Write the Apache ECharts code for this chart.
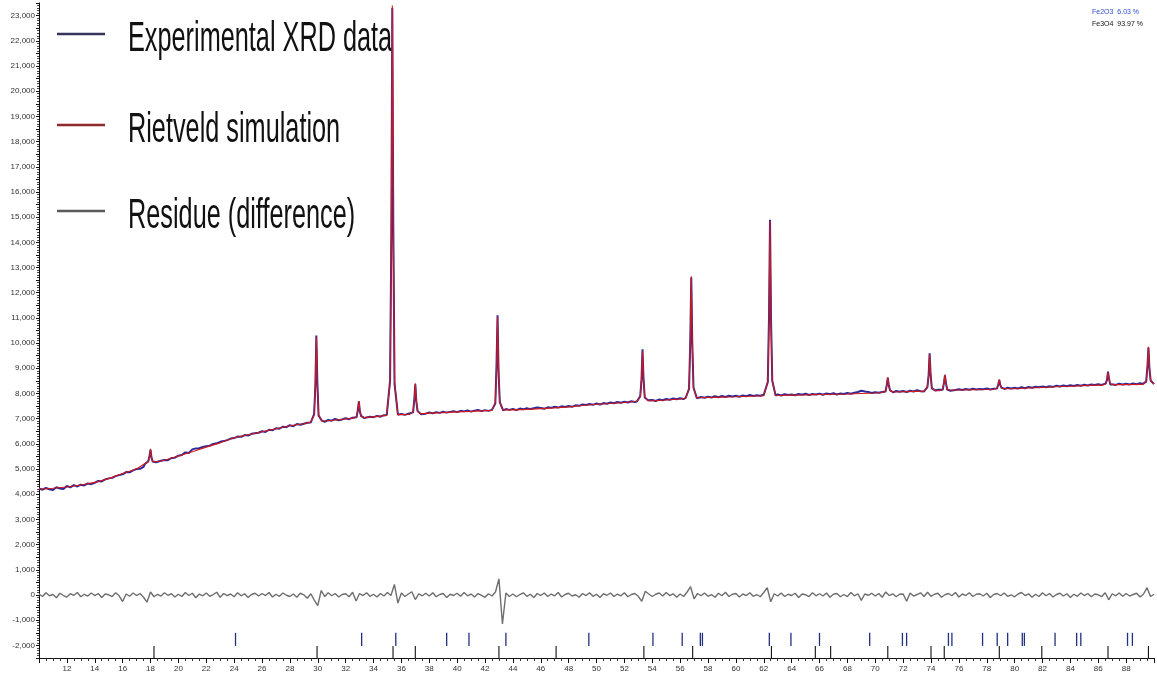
<!DOCTYPE html>
<html>
<head>
<meta charset="utf-8">
<script src="https://cdn.jsdelivr.net/npm/echarts@6/dist/echarts.min.js"></script>
<style>
  html, body { margin: 0; padding: 0; background: #ffffff; }
  #chart { width: 1157px; height: 684px; }
</style>
</head>
<body>
<div id="chart"></div>
<script>
// Scan grid of the measured pattern (2θ in degrees)
const scanStart = 10;
const scanStep = 0.25;

// Measured counts, one value per 0.25° from 10° to 90°
const expCounts = [
  4230, 4180, 4250, 4200, 4170, 4280, 4230, 4210,
  4330, 4270, 4360, 4310, 4380, 4350, 4430, 4400,
  4450, 4530, 4510, 4590, 4630, 4650, 4720, 4760,
  4790, 4880, 4870, 4950, 5000, 5010, 5090, 5110,
  5230, 5270, 5250, 5330, 5360, 5350, 5440, 5450,
  5530, 5560, 5660, 5640, 5780, 5820, 5830, 5880,
  5910, 5930, 6000, 6020, 6080, 6110, 6150, 6210,
  6230, 6290, 6280, 6350, 6330, 6400, 6420, 6440,
  6500, 6470, 6560, 6540, 6620, 6600, 6680, 6660,
  6740, 6700, 6790, 6760, 6800, 6840, 6810, 6880,
  6890, 6930, 6870, 6950, 6920, 6990, 6940, 6970,
  7020, 6980, 7040, 7000, 7060, 7030, 7050, 7080,
  7060, 7110, 7080, 7140, 7100, 7130, 7170, 7150,
  7190, 7150, 7200, 7170, 7220, 7190, 7240, 7200,
  7250, 7210, 7260, 7230, 7280, 7240, 7270, 7300,
  7260, 7310, 7290, 7330, 7280, 7320, 7350, 7300,
  7340, 7310, 7370, 7330, 7360, 7340, 7380, 7350,
  7390, 7340, 7400, 7370, 7420, 7380, 7410, 7440,
  7420, 7390, 7450, 7430, 7470, 7440, 7490, 7460,
  7500, 7470, 7530, 7510, 7560, 7540, 7580, 7550,
  7600, 7560, 7620, 7590, 7640, 7610, 7660, 7630,
  7670, 7640, 7690, 7660, 7710, 7680, 7720, 7700,
  7740, 7700, 7760, 7730, 7780, 7750, 7800, 7770,
  7810, 7780, 7830, 7800, 7850, 7820, 7860, 7830,
  7870, 7840, 7890, 7850, 7900, 7860, 7910, 7880,
  7910, 7870, 7920, 7890, 7940, 7900, 7930, 7910,
  7950, 7920, 7960, 7930, 7960, 7920, 7970, 7940,
  7960, 7930, 7980, 7950, 7990, 7940, 7980, 7960,
  7990, 7950, 8000, 7970, 8010, 7960, 8000, 7980,
  8020, 7990, 8030, 8060, 8110, 8080, 8060, 8020,
  8050, 8030, 8070, 8040, 8090, 8060, 8100, 8070,
  8100, 8060, 8110, 8080, 8130, 8090, 8120, 8100,
  8130, 8100, 8150, 8120, 8160, 8130, 8170, 8140,
  8170, 8140, 8180, 8150, 8190, 8160, 8180, 8170,
  8200, 8160, 8210, 8180, 8220, 8190, 8230, 8200,
  8230, 8200, 8250, 8210, 8260, 8230, 8270, 8250,
  8280, 8250, 8290, 8260, 8310, 8280, 8320, 8290,
  8330, 8300, 8340, 8310, 8350, 8320, 8360, 8340,
  8370, 8340, 8380, 8350, 8380, 8340, 8390, 8360,
  8390, 8360, 8400, 8370, 8410, 8380, 8420, 8390,
  8400
];

// Difference curve (observed − calculated), same 0.25° grid
const residueCounts = [
    40,  -60,   90,  -30,   20, -110,   70,  -20,
   -80,   50,  -10,  100,  -70,   30,  -40,   80,
   -20,   60, -100,   40,   10,  -60,   90,  -30,
  -260,   40,  -50,   80,  -20,   60,  -90, -280,
   120,  -70,   30,  -40,   90,  -10,   50,  -80,
    30,  -60,  100,  -20,   70, -110,   40,  -30,
    80,  -50,   20,  110,  -90,   60,  -20,   40,
   -70,   90,  -30,   50, -100,   20,   70,  -40,
    60,  -20,  100,  -80,   30,  -50,   80,  -10,
   -60,   40,  -90,   70,   10, -130,   50, -200,
  -420,  180,  -60,   90,  -30,   60,  -80,   20,
    50,  -70,  110, -240,   60,  -20,   90,  -50,
    30,  -80,   60,  -40,  100,  -20,  420, -320,
    80,  -60,   40,  130, -180,   50,  -30,   70,
   -40,   90,  -70,   20,   60, -100,   30,  -20,
    70,  -50,  100,  -30,   40,  -80,   60,  -10,
   -90,   50,  -40,  120,  640,-1150,   80,  -60,
    40,  -70,   20,   90,  -50,   30, -100,   60,
   -20,   80,  -60,   40,  -30,  100,  -80,   20,
    70,  -40,   10,  -90,   60,  -20,   90,  -50,
    30, -100,   50,  -10,   80,  -60,   40,  -30,
    90,  -70,   20,   60,  -50, -250,  150,   40,
   -60,   30,   80,  -40,  100,  -20,   50,  -90,
    40,  -60,  120,  330, -150,   60,  -30,   80,
   -50,   20,  -90,   70,  -30,  110,  -60,   30,
    60,  -80,   40,  -20,   90,  -50,   20,  -70,
   100,  290, -270,   50,  -40,   80,  -60,   30,
   -20,   70, -100,   40,   10,  -60,   90,  -30,
    50,  -40,   80,  -90,   30,   60,  -70,   20,
   -60,  100,  -30,   50, -210,   40,  -10,   70,
   -40,   60,  -90,  120,  -20,   50,  -70,   30,
    40, -250,   80,  -40,   20,   90,  -60,  110,
   -50,   30,   70,  -90,   10,   60,  -30,  100,
   -80,   40,  -20,   90,  -60,   30,   50,  -40,
    70, -100,   20,   60,  -30,   80,  -50,   10,
   -70,   40,  100,  -20,   50,  -90,   30,  -60,
    90,  -30,   60,  -80,   20,   70,  -40,   50,
  -100,   30,  -50,   80,  -20,   60,  -70,   40,
    10,  -60,   90, -190,   50,  -30,   80,  -50,
    60,  -40,   20,   70,  -80,   40,  290,  -60,
    30
];

// Refined background of the calculated pattern, one node per degree from 10° to 90°
const simBackground = [
  4200, 4240, 4290, 4370, 4470, 4620, 4820, 5000, 5200, 5350,
  5520, 5690, 5870, 6040, 6240, 6360, 6480, 6600, 6720, 6800,
  6880, 6930, 6990, 7030, 7070, 7110, 7160, 7190, 7220, 7240,
  7270, 7290, 7320, 7340, 7350, 7370, 7400, 7430, 7470, 7520,
  7570, 7600, 7640, 7670, 7710, 7740, 7780, 7810, 7840, 7855,
  7870, 7890, 7910, 7920, 7935, 7945, 7960, 7970, 7980, 8000,
  8020, 8045, 8070, 8085, 8100, 8120, 8140, 8150, 8160, 8175,
  8190, 8215, 8240, 8265, 8290, 8310, 8330, 8340, 8350, 8360,
  8375
];

// Reflections of the pattern: centre (2θ) and profile samples at the offsets below
const peakPositions = [18.0, 29.9, 32.95, 35.35, 37.0, 42.9, 53.3, 56.8, 62.45, 70.9, 73.9, 75.0, 78.9, 86.7, 89.6];
const peakOffsets = [-0.4, -0.16, -0.07, 0, 0.07, 0.16, 0.4];

const simPeakCounts = [
  [5220, 5280, 5490,  5800,  5490, 5290, 5290],
  [6870, 7140, 8400, 10250,  8400, 7150, 6900],
  [7020, 7080, 7330,  7700,  7330, 7090, 7040],
  [7130, 8440, 14460, 23400, 14460, 8450, 7150],
  [7170, 7280, 7730,  8400,  7730, 7280, 7190],
  [7330, 7630, 9010, 11050,  9010, 7640, 7350],
  [7690, 7860, 8600,  9700,  8600, 7870, 7710],
  [7810, 8200, 9990, 12650,  9990, 8210, 7830],
  [7910, 8470, 11040, 14850, 11040, 8480, 7930],
  [8040, 8100, 8320,  8650,  8320, 8100, 8060],
  [8090, 8220, 8750,  9550,  8750, 8220, 8110],
  [8110, 8170, 8400,  8750,  8400, 8170, 8130],
  [8170, 8210, 8350,  8560,  8350, 8210, 8190],
  [8330, 8380, 8570,  8850,  8570, 8380, 8350],
  [8360, 8490, 9040,  9850,  9040, 8490, 8380]
];

const expPeakCounts = [
  [5200, 5310, 5520,  5760,  5460, 5300, 5270],
  [6850, 7180, 8330, 10300,  8480, 7120, 6920],
  [7040, 7060, 7360,  7690,  7290, 7110, 7020],
  [7150, 8520, 14300, 23300, 14700, 8380, 7160],
  [7190, 7250, 7780,  8360,  7700, 7310, 7180],
  [7350, 7600, 9200, 11100,  8900, 7660, 7330],
  [7680, 7900, 8550,  9750,  8640, 7840, 7730],
  [7830, 8180, 10100, 12600, 10050, 8240, 7810],
  [7930, 8450, 11100, 14900, 11000, 8510, 7920],
  [8060, 8080, 8350,  8620,  8340, 8130, 8040],
  [8080, 8250, 8720,  9600,  8780, 8200, 8120],
  [8130, 8150, 8420,  8720,  8430, 8160, 8110],
  [8190, 8200, 8370,  8540,  8330, 8230, 8180],
  [8320, 8400, 8550,  8870,  8590, 8360, 8360],
  [8380, 8470, 9080,  9820,  9010, 8520, 8370]
];

// Bragg positions of the two refined phases
const fe2o3Reflections = [24.1, 33.15, 35.6, 39.25, 40.85, 43.5, 49.45, 54.05, 56.15, 57.45, 57.6,
  62.4, 63.95, 66.0, 69.6, 71.95, 72.25, 75.25, 75.5, 77.7, 78.75, 79.5, 80.55, 80.7, 82.9,
  84.45, 84.75, 88.1, 88.45];
const fe3o4Reflections = [18.25, 29.95, 35.4, 37.0, 43.0, 47.1, 53.4, 56.9, 62.55, 65.7, 66.8,
  70.9, 74.0, 74.95, 78.9, 81.95, 86.7, 89.6];

// Phase fractions and legend entries
const phaseFractions = ['Fe2O3  6.03 %', 'Fe3O4  93.97 %'];
const seriesNames = ['Experimental XRD data', 'Rietveld simulation', 'Residue (difference)'];

// ---- assemble [2θ, counts] pairs ----
function gridPairs(values, start, step) {
  return values.map((v, i) => [+(start + i * step).toFixed(3), v]);
}
// replace grid samples inside each reflection window with the reflection profile
function withPeaks(pairs, positions, profiles) {
  const half = Math.max(...peakOffsets.map(Math.abs));
  const kept = pairs.filter(p => !positions.some(c => Math.abs(p[0] - c) <= half + 1e-6));
  positions.forEach((c, i) => {
    peakOffsets.forEach((o, j) => kept.push([+(c + o).toFixed(3), profiles[i][j]]));
  });
  kept.sort((a, b) => a[0] - b[0]);
  return kept;
}

const expData = withPeaks(gridPairs(expCounts, scanStart, scanStep), peakPositions, expPeakCounts);
const simData = withPeaks(gridPairs(simBackground, scanStart, 1), peakPositions, simPeakCounts);
const residueData = gridPairs(residueCounts, scanStart, scanStep);

const thousands = v => v.toLocaleString('en-US');

// vertical tick marks for a phase's reflection list
function braggSeries(name, positions, yTop, yBottom, color, width) {
  return {
    name: name,
    type: 'custom',
    silent: true,
    data: positions.map(t => [t, yTop]),
    encode: { x: 0, y: 1 },
    renderItem: function (params, api) {
      const a = api.coord([api.value(0), yTop]);
      const b = api.coord([api.value(0), yBottom]);
      return {
        type: 'line',
        shape: { x1: a[0], y1: a[1], x2: b[0], y2: b[1] },
        style: { stroke: color, lineWidth: width }
      };
    }
  };
}

const chart = echarts.init(document.getElementById('chart'), null, { renderer: 'canvas' });

const legendFont = '32px "Liberation Sans", Arial, sans-serif';
const legendRows = [
  { y: 40, line: '#34345c' },
  { y: 131, line: '#8e2a2a' },
  { y: 217, line: '#5a5a5a' }
];

chart.setOption({
  animation: false,
  backgroundColor: '#ffffff',
  grid: { left: 39, right: -2, top: 3, bottom: 26, containLabel: false },
  xAxis: {
    type: 'value',
    min: 10,
    max: 90,
    interval: 2,
    axisLine: { show: true, onZero: false, lineStyle: { color: '#111', width: 1 } },
    axisTick: { show: true, length: 5, lineStyle: { color: '#111' } },
    minorTick: { show: true, splitNumber: 4, length: 3, lineStyle: { color: '#333' } },
    splitLine: { show: false },
    axisLabel: {
      fontSize: 8,
      color: '#333',
      margin: 7,
      fontFamily: 'Liberation Sans, sans-serif',
      formatter: v => (v === 10 || v === 90) ? '' : String(v)
    }
  },
  yAxis: {
    type: 'value',
    min: -2500,
    max: 23500,
    interval: 500,
    axisLine: { show: true, onZero: false, lineStyle: { color: '#111', width: 1 } },
    axisTick: { show: true, length: 3, lineStyle: { color: '#111' } },
    minorTick: { show: true, splitNumber: 5, length: 2, lineStyle: { color: '#444' } },
    splitLine: { show: false },
    axisLabel: {
      fontSize: 8,
      color: '#333',
      margin: 4,
      fontFamily: 'Liberation Sans, sans-serif',
      formatter: v => (v % 1000 === 0 && v >= -2000 && v <= 23000) ? thousands(v) : ''
    }
  },
  series: [
    {
      name: seriesNames[0],
      type: 'line',
      data: expData,
      showSymbol: false,
      lineStyle: { color: '#2a2a9a', width: 2 },
      z: 2
    },
    {
      name: seriesNames[1],
      type: 'line',
      data: simData,
      showSymbol: false,
      lineStyle: { color: '#d41818', width: 1.1 },
      z: 3
    },
    {
      name: seriesNames[2],
      type: 'line',
      data: residueData,
      showSymbol: false,
      lineStyle: { color: '#6e6e6e', width: 1.4 },
      z: 2
    },
    braggSeries('Fe2O3', fe2o3Reflections, -1500, -2020, '#23307f', 1.3),
    braggSeries('Fe3O4', fe3o4Reflections, -2020, -2500, '#111111', 1.1)
  ],
  graphic: [
    ...legendRows.map((r, i) => ({
      type: 'group',
      children: [
        { type: 'line', shape: { x1: 57, y1: r.y - 6, x2: 105, y2: r.y - 6 }, style: { stroke: r.line, lineWidth: 2.5 } },
        {
          type: 'text', x: 128, y: r.y, scaleX: 0.79, scaleY: 1.3,
          style: { text: seriesNames[i], font: legendFont, fill: '#111', verticalAlign: 'middle', align: 'left' }
        }
      ]
    })),
    {
      type: 'text', x: 1092, y: 12,
      style: { text: phaseFractions[0], font: '7px "Liberation Sans", sans-serif', fill: '#2b4bd0', verticalAlign: 'middle' }
    },
    {
      type: 'text', x: 1092, y: 24,
      style: { text: phaseFractions[1], font: '7px "Liberation Sans", sans-serif', fill: '#111', verticalAlign: 'middle' }
    }
  ]
});
</script>
</body>
</html>
